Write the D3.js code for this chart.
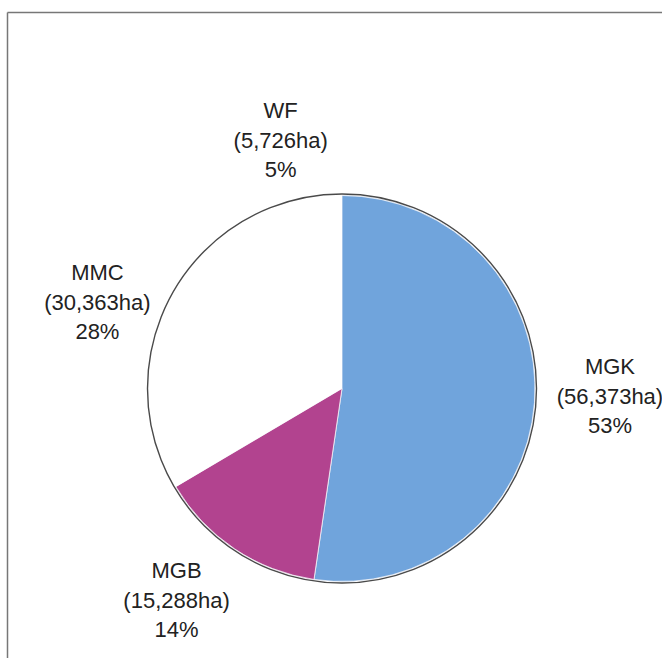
<!DOCTYPE html>
<html>
<head>
<meta charset="utf-8">
<script src="https://cdn.jsdelivr.net/npm/d3@7"></script>
<style>
  html, body { margin: 0; padding: 0; background: #fff; }
  svg { display: block; }
</style>
</head>
<body>
<svg id="chart" width="662" height="658"></svg>
<script>
// ---- data ----
const categories = ["MGK", "MGB", "MMC", "WF"];
const areas = [56373, 15288, 30363, 5726];
const areaLabels = ["(56,373ha)", "(15,288ha)", "(30,363ha)", "(5,726ha)"];
const percentLabels = ["53%", "14%", "28%", "5%"];
const colors = ["#70a4dc", "#b2438f", "#ffffff", "#ffffff"];
// label offsets (dx, dy) from the point on the circle at each slice's mid angle
const labelOffsets = [[74, 1], [-57, 58], [-62, -12], [-29, -49]];

// ---- layout ----
const W = 662, H = 658;
const cx = 342, cy = 388.5, R = 194.5;
const svg = d3.select("#chart");

// frame
svg.append("line").attr("x1", 7.5).attr("y1", 12.5).attr("x2", W).attr("y2", 12.5)
  .attr("stroke", "#777").attr("stroke-width", 1.5);
svg.append("line").attr("x1", 7.5).attr("y1", 12.5).attr("x2", 7.5).attr("y2", H)
  .attr("stroke", "#777").attr("stroke-width", 1.5);

const data = categories.map((c, i) => ({
  cat: c, value: areas[i], area: areaLabels[i], pct: percentLabels[i],
  color: colors[i], off: labelOffsets[i]
}));

const pie = d3.pie().value(d => d.value).sort(null);
const arcs = pie(data);
const arc = d3.arc().innerRadius(0).outerRadius(R - 1.5);

const g = svg.append("g").attr("transform", `translate(${cx},${cy})`);
g.selectAll("path.slice").data(arcs).enter().append("path")
  .attr("class", "slice")
  .attr("d", arc)
  .attr("fill", d => d.data.color)
  .attr("stroke", d => d.data.color === "#ffffff" ? "none" : "#f4f4f8")
  .attr("stroke-width", 0.8);

g.append("circle").attr("r", R).attr("fill", "none")
  .attr("stroke", "#4a4a4a").attr("stroke-width", 1.4);

// labels
const font = "'Liberation Sans', Arial, Helvetica, sans-serif";
const lh = 29.5;
arcs.forEach(a => {
  const mid = (a.startAngle + a.endAngle) / 2;
  const px = R * Math.sin(mid) + a.data.off[0];
  const py = -R * Math.cos(mid) + a.data.off[1];
  const t = g.append("text")
    .attr("x", px).attr("y", py)
    .attr("text-anchor", "middle")
    .attr("font-family", font)
    .attr("font-size", 22)
    .attr("fill", "#222");
  [a.data.cat, a.data.area, a.data.pct].forEach((s, i) => {
    t.append("tspan").attr("x", px).attr("y", py + (i - 1) * lh).text(s);
  });
});
</script>
</body>
</html>
